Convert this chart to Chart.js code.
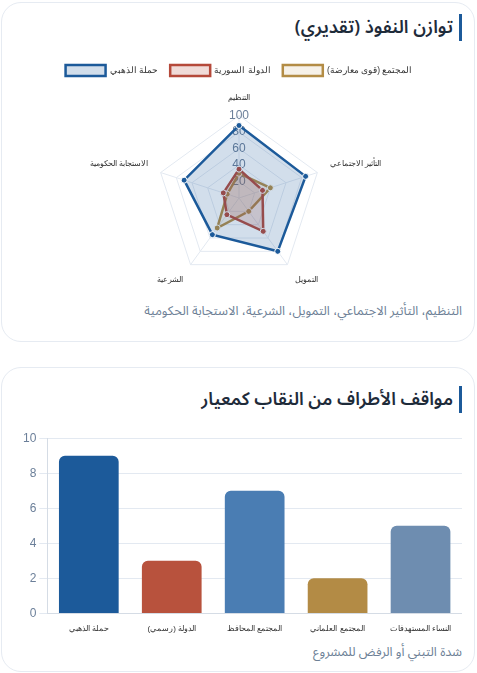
<!DOCTYPE html>
<html lang="ar" dir="rtl">
<head>
<meta charset="utf-8">
<script src="https://cdn.jsdelivr.net/npm/chart.js@4.4.1/dist/chart.umd.min.js"></script>
<style>
  html, body { margin:0; padding:0; background:#ffffff; width:477px; height:673px; overflow:hidden; font-family:"Noto Sans Arabic","Noto Sans","DejaVu Sans",sans-serif; }
  .card { position:absolute; left:1px; width:474px; background:#fff; border:1px solid #e6ebf2; border-radius:20px; box-sizing:border-box; }
  .title { position:absolute; right:15px; height:27px; line-height:27px; border-right:3px solid #1c5a9a; padding-right:6px; font-size:18px; font-weight:600; color:#1e2b3a; white-space:nowrap; direction:rtl; }
  .cap { position:absolute; right:15px; font-size:12.7px; color:#6d7f96; white-space:nowrap; direction:rtl; line-height:18px; }
  .box { position:absolute; }
</style>
</head>
<body>
<div class="card" style="top:2px;height:340px;"></div>
<div class="title" style="top:14px;">توازن النفوذ (تقديري)</div>
<div class="box" style="left:16px;top:53px;width:446px;height:244px;"><canvas id="radar"></canvas></div>
<div class="cap" style="top:302px;">التنظيم، التأثير الاجتماعي، التمويل، الشرعية، الاستجابة الحكومية</div>

<div class="card" style="top:367px;height:305px;"></div>
<div class="title" style="top:386px;">مواقف الأطراف من النقاب كمعيار</div>
<div class="box" style="left:16px;top:428px;width:446px;height:209px;"><canvas id="bar"></canvas></div>
<div class="cap" style="top:643px;">شدة التبني أو الرفض للمشروع</div>

<script>
const radarLabels = ['التنظيم', 'التأثير الاجتماعي', 'التمويل', 'الشرعية', 'الاستجابة الحكومية'];
const seriesNames = ['حملة الذهبي', 'الدولة السورية', 'المجتمع (قوى معارضة)'];
const dahabiValues = [88, 85, 80, 55, 70];
const stateValues = [35, 30, 50, 25, 20];
const societyValues = [30, 40, 20, 45, 15];

const barLabels = ['حملة الذهبي', 'الدولة (رسمي)', 'المجتمع المحافظ', 'المجتمع العلماني', 'النساء المستهدفات'];
const barValues = [9, 3, 7, 2, 5];
const barColors = ['#1c5a9a', '#b8523d', '#4a7db3', '#b38b45', '#6e8db0'];

const tickColor = '#6b7f99';
const gridColor = '#e3e9f1';

new Chart(document.getElementById('radar'), {
  type: 'radar',
  data: {
    labels: radarLabels,
    datasets: [
      { label: seriesNames[0], data: dahabiValues, borderColor:'#1c5a9a', backgroundColor:'rgba(28,90,154,0.2)', borderWidth:2.5, pointBackgroundColor:'#1c5a9a', pointBorderColor:'#fff', pointBorderWidth:1, pointRadius:3 },
      { label: seriesNames[1], data: stateValues, borderColor:'#b5493a', backgroundColor:'rgba(181,73,58,0.2)', borderWidth:2.5, pointBackgroundColor:'#b5493a', pointBorderColor:'#fff', pointBorderWidth:1, pointRadius:3 },
      { label: seriesNames[2], data: societyValues, borderColor:'#b38c45', backgroundColor:'rgba(179,140,69,0.12)', borderWidth:2.5, pointBackgroundColor:'#b38c45', pointBorderColor:'#fff', pointBorderWidth:1, pointRadius:3 }
    ]
  },
  options: {
    responsive:true, maintainAspectRatio:false, animation:false,
    plugins: {
      legend: { position:'top', labels: { boxWidth:40, boxHeight:11, font:{size:8.5}, color:'#333', padding:12 } },
      tooltip: { enabled:false }
    },
    scales: {
      r: {
        min:0, max:100, beginAtZero:true,
        ticks: { stepSize:20, color:tickColor, font:{size:12}, showLabelBackdrop:false, backdropColor:'transparent' },
        grid: { color:gridColor },
        angleLines: { color:gridColor },
        pointLabels: { font:{size:8}, color:'#333' }
      }
    }
  }
});

new Chart(document.getElementById('bar'), {
  type: 'bar',
  data: {
    labels: barLabels,
    datasets: [{ data: barValues, backgroundColor: barColors, borderRadius:6, borderSkipped:'bottom' }]
  },
  options: {
    responsive:true, maintainAspectRatio:false, animation:false,
    layout: { padding: { left:4 } },
    plugins: { legend:{ display:false }, tooltip:{ enabled:false } },
    scales: {
      x: { grid:{ display:false }, ticks:{ color:'#333', font:{size:8} }, border:{ color:'#d5dce5' } },
      y: { min:0, max:10, ticks:{ stepSize:2, color:tickColor, font:{size:12} }, grid:{ color:gridColor }, border:{ color:'#d5dce5' } }
    }
  }
});
</script>
</body>
</html>
